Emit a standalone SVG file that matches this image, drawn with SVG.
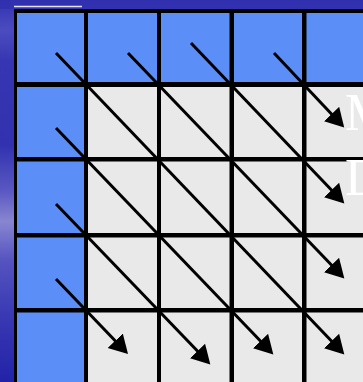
<svg xmlns="http://www.w3.org/2000/svg" width="363" height="382" viewBox="0 0 363 382">
  <defs>
    <linearGradient id="bg" x1="0" y1="0" x2="0" y2="1">
      <stop offset="0" stop-color="#3232b2"/>
      <stop offset="0.08" stop-color="#4c4cc0"/>
      <stop offset="0.16" stop-color="#3636b2"/>
      <stop offset="0.38" stop-color="#3232b0"/>
      <stop offset="0.5" stop-color="#5a58c2"/>
      <stop offset="0.58" stop-color="#8886d0"/>
      <stop offset="0.68" stop-color="#5654c0"/>
      <stop offset="0.82" stop-color="#3a3ab4"/>
      <stop offset="1" stop-color="#2222a8"/>
    </linearGradient>
    <marker id="ah" markerUnits="userSpaceOnUse" markerWidth="20" markerHeight="22" viewBox="0 -11 20 22" refX="2" refY="0" orient="auto">
      <path d="M0,-10.5 L18.5,0 L0,10.5 Z" fill="#000"/>
    </marker>
    <style>
      .b { fill: #5c8ef8; }
      .g { fill: #e9e9e9; }
      .c { stroke: #000; stroke-width: 3; marker-end: url(#ah); }
      .t { font-family: "Liberation Serif", "Times New Roman", serif; font-size: 52px; fill: #ffffff; }
    </style>
  </defs>
  <rect x="0" y="0" width="363" height="382" fill="url(#bg)"/>
  <rect x="0" y="0" width="363" height="9" fill="#2e2eae" opacity="0.6"/>
  <line x1="14" y1="6.5" x2="82" y2="6.5" stroke="#e4e4ee" stroke-width="1.5"/>
  <rect x="14" y="9" width="349" height="373" fill="#000"/>
  <g id="row0">
    <g id="cell-0-0"><rect class="b" x="17" y="13" width="67" height="69"/></g>
    <g id="cell-0-1"><rect class="b" x="88" y="13" width="69" height="69"/></g>
    <g id="cell-0-2"><rect class="b" x="161" y="13" width="68.5" height="69"/></g>
    <g id="cell-0-3"><rect class="b" x="234" y="13" width="68" height="69"/></g>
    <g id="cell-0-4"><rect class="b" x="306.5" y="13" width="57" height="69"/></g>
  </g>
  <g id="row1">
    <g id="cell-1-0"><rect class="b" x="17" y="87" width="67" height="70"/></g>
    <g id="cell-1-1"><rect class="g" x="88" y="87" width="69" height="70"/></g>
    <g id="cell-1-2"><rect class="g" x="161" y="87" width="68.5" height="70"/></g>
    <g id="cell-1-3"><rect class="g" x="234" y="87" width="68" height="70"/></g>
    <g id="cell-1-4"><rect class="g" x="306.5" y="87" width="57" height="70"/></g>
  </g>
  <g id="row2">
    <g id="cell-2-0"><rect class="b" x="17" y="161.5" width="67" height="71.5"/></g>
    <g id="cell-2-1"><rect class="g" x="88" y="161.5" width="69" height="71.5"/></g>
    <g id="cell-2-2"><rect class="g" x="161" y="161.5" width="68.5" height="71.5"/></g>
    <g id="cell-2-3"><rect class="g" x="234" y="161.5" width="68" height="71.5"/></g>
    <g id="cell-2-4"><rect class="g" x="306.5" y="161.5" width="57" height="71.5"/></g>
  </g>
  <g id="row3">
    <g id="cell-3-0"><rect class="b" x="17" y="237.5" width="67" height="70.5"/></g>
    <g id="cell-3-1"><rect class="g" x="88" y="237.5" width="69" height="70.5"/></g>
    <g id="cell-3-2"><rect class="g" x="161" y="237.5" width="68.5" height="70.5"/></g>
    <g id="cell-3-3"><rect class="g" x="234" y="237.5" width="68" height="70.5"/></g>
    <g id="cell-3-4"><rect class="g" x="306.5" y="237.5" width="57" height="70.5"/></g>
  </g>
  <g id="row4">
    <g id="cell-4-0"><rect class="b" x="17" y="312.5" width="67" height="70"/></g>
    <g id="cell-4-1"><rect class="g" x="88" y="312.5" width="69" height="70"/></g>
    <g id="cell-4-2"><rect class="g" x="161" y="312.5" width="68.5" height="70"/></g>
    <g id="cell-4-3"><rect class="g" x="234" y="312.5" width="68" height="70"/></g>
    <g id="cell-4-4"><rect class="g" x="306.5" y="312.5" width="57" height="70"/></g>
  </g>
  <g id="connectors">
    <line class="c" x1="56" y1="53" x2="332.9" y2="342.5"/>
    <line class="c" x1="128" y1="53" x2="332.9" y2="266.5"/>
    <line class="c" x1="191" y1="43" x2="332.9" y2="191.5"/>
    <line class="c" x1="274" y1="53" x2="332.9" y2="115.5"/>
    <line class="c" x1="56" y1="128" x2="261.9" y2="342.5"/>
    <line class="c" x1="56" y1="204" x2="198.9" y2="352.5"/>
    <line class="c" x1="56" y1="279" x2="116.6" y2="342.2"/>
  </g>
  <g id="labels">
    <text class="t" x="345" y="130">M</text>
    <text class="t" x="345" y="195">D</text>
  </g>
</svg>
